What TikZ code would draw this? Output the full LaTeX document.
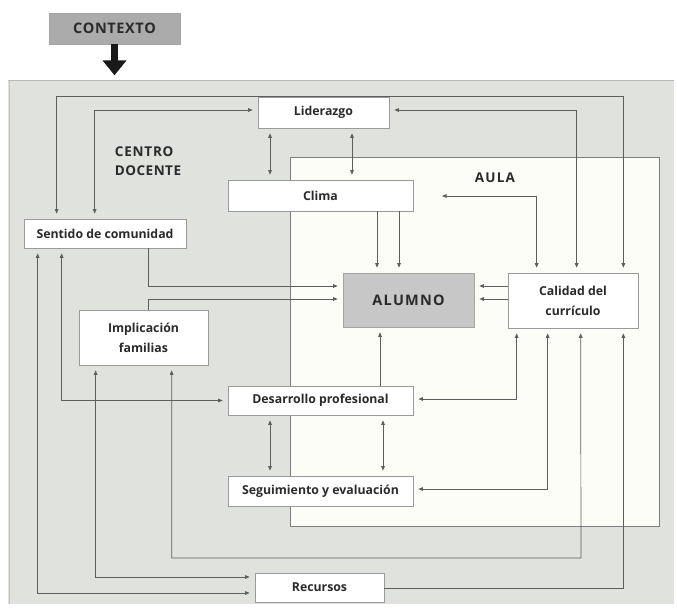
\documentclass[tikz,border=0pt]{standalone}
\usepackage{fontspec}
\setmainfont{Open Sans}
\usetikzlibrary{arrows.meta,calc}
\definecolor{bgouter}{HTML}{E0E2DE}
\definecolor{bgaula}{HTML}{FDFDF8}
\definecolor{boxline}{HTML}{9A9A9A}
\definecolor{wire}{HTML}{5E5E5E}
\definecolor{ctxfill}{HTML}{ABABAB}
\definecolor{alufill}{HTML}{C7C7C7}
\definecolor{txt}{HTML}{2A2A2A}
\tikzset{
  box/.style={draw=boxline, fill=white, line width=0.7pt, inner sep=0pt,
    align=center, text=txt, font=\bfseries\fontsize{12.3}{20}\selectfont},
  tip/.style={-{Triangle[length=4.5pt,width=3.6pt]}},
  wireline/.style={draw=wire, line width=0.7pt},
  one/.style={wireline, tip, shorten >=5pt},
  both/.style={wireline, {Triangle[length=4.5pt,width=3.6pt]}-{Triangle[length=4.5pt,width=3.6pt]},
    shorten >=5pt, shorten <=5pt},
  zone/.style={font=\bfseries\fontsize{13.5}{19}\selectfont, text=txt, align=left}
}
\begin{document}
\begin{tikzpicture}[x=1pt,y=-1pt]
\useasboundingbox (0,0) rectangle (677,613);

% regions
\fill[bgouter] (8,80) rectangle (674,604);
\draw[boxline!70, line width=0.8pt] (8,80) -- (674,80);
\draw[boxline!60, line width=1pt] (9,80) -- (9,604);
\draw[fill=bgaula, draw=wire!80, line width=0.7pt] (290,157) rectangle (659,526);

% context
\node[box, fill=ctxfill, draw=boxline!90, minimum width=131pt, minimum height=31pt,
  font=\bfseries\fontsize{14.5}{16}\selectfont] (ctx) at (114.5,28.5) {C\kern0.6pt O\kern0.6pt N\kern0.6pt T\kern0.6pt E\kern0.6pt X\kern0.6pt T\kern0.6pt O};
\draw[line width=6.5pt, draw=black!90,
  -{Triangle[length=15pt,width=23pt]}] (ctx.south) -- ++(0,31);

% zone labels
\node[zone] (centro) at (148,161) {C\kern0.8pt E\kern0.8pt N\kern0.8pt T\kern0.8pt R\kern0.8pt O\\D\kern0.5pt O\kern0.5pt C\kern0.5pt E\kern0.5pt N\kern0.5pt T\kern0.5pt E};
\node[zone] (aula) at (495,178) {A\kern1.2pt U\kern1.2pt L\kern1.2pt A};

% boxes
\node[box, minimum width=131pt, minimum height=31pt] (lid) at (323.5,112.5) {Liderazgo};
\node[box, minimum width=185pt, minimum height=31pt] (clima) at (320.5,195.5) {Clima};
\node[box, minimum width=162pt, minimum height=29pt] (sent) at (105,233.5) {Sentido de comunidad};
\node[box, fill=alufill, draw=boxline!90, minimum width=131pt, minimum height=54pt,
  font=\bfseries\fontsize{14.5}{17}\selectfont] (alu) at (408.5,300) {A\kern1.2pt L\kern1.2pt U\kern1.2pt M\kern1.2pt N\kern1.2pt O};
\node[box, minimum width=130pt, minimum height=55pt] (cal) at (573,300.5) {Calidad del\\currículo};
\node[box, minimum width=129pt, minimum height=55pt] (impl) at (143.5,337.5) {Implicación\\familias};
\node[box, minimum width=185pt, minimum height=29pt] (des) at (320.5,400.5) {Desarrollo profesional};
\node[box, minimum width=185pt, minimum height=30pt] (seg) at (320.5,491) {Seguimiento y evaluación};
\node[box, minimum width=129pt, minimum height=29pt] (rec) at (319.5,587.5) {Recursos};

% free end of the climate link inside the classroom
\coordinate (climaEnd) at (437,196);

% connectors around the top
\draw[both] ([xshift=33pt]sent.north west) |- (lid.north west) -| ([xshift=-15pt]cal.north east);
\draw[both] ([xshift=71pt]sent.north west) |- ([yshift=2.5pt]lid.west);
\draw[both] ([yshift=2.5pt]lid.east) -| ([xshift=69pt]cal.north west);
\draw[both] ([xshift=-53.5pt]lid.south) -- ([xshift=-50.5pt]clima.north);
\draw[both] ([xshift=28.5pt]lid.south) -- ([xshift=31.5pt]clima.north);
\draw[both] (climaEnd) -| ([xshift=29pt]cal.north west);

% into the pupil
\draw[one] ([xshift=56.5pt]clima.south) -- ([xshift=-31.5pt]alu.north);
\draw[one] ([xshift=78.5pt]clima.south) -- ([xshift=-9.5pt]alu.north);
\draw[one] ([yshift=14.5pt]cal.west) -- ([yshift=14pt]alu.east);
\draw[one] ([yshift=1.5pt]cal.west) -- ([yshift=1pt]alu.east);
\draw[one] ([xshift=43pt]sent.south) |- ([yshift=14pt]alu.west);
\draw[one] ([xshift=4.5pt]impl.north) |- ([yshift=1pt]alu.west);
\draw[one] ([xshift=59.5pt]des.north) -- ([xshift=-28.5pt]alu.south);

% lower left loops
\draw[both] ([xshift=14pt]sent.south west) |- ([yshift=-5.5pt]rec.west);
\draw[both] ([xshift=38pt]sent.south west) |- (des.west);
\draw[both] ([xshift=17pt]impl.south west) |- ([yshift=10.5pt]rec.west);
\draw[both] ([xshift=93pt]impl.south west) |- (581,558) -- ([xshift=73pt]cal.south west);
\draw[one] ([yshift=-0.5pt]rec.east) -| ([xshift=-15pt]cal.south east);

% lower right loops
\draw[both] ([xshift=9pt]cal.south west) |- ([yshift=1.5pt]des.east);
\draw[both] ([xshift=40pt]cal.south west) |- ([yshift=2pt]seg.east);
\draw[both] ([xshift=-50.5pt]des.south) -- ([xshift=-50.5pt]seg.north);
\draw[both] ([xshift=62.5pt]des.south) -- ([xshift=62.5pt]seg.north);
\end{tikzpicture}
\end{document}
